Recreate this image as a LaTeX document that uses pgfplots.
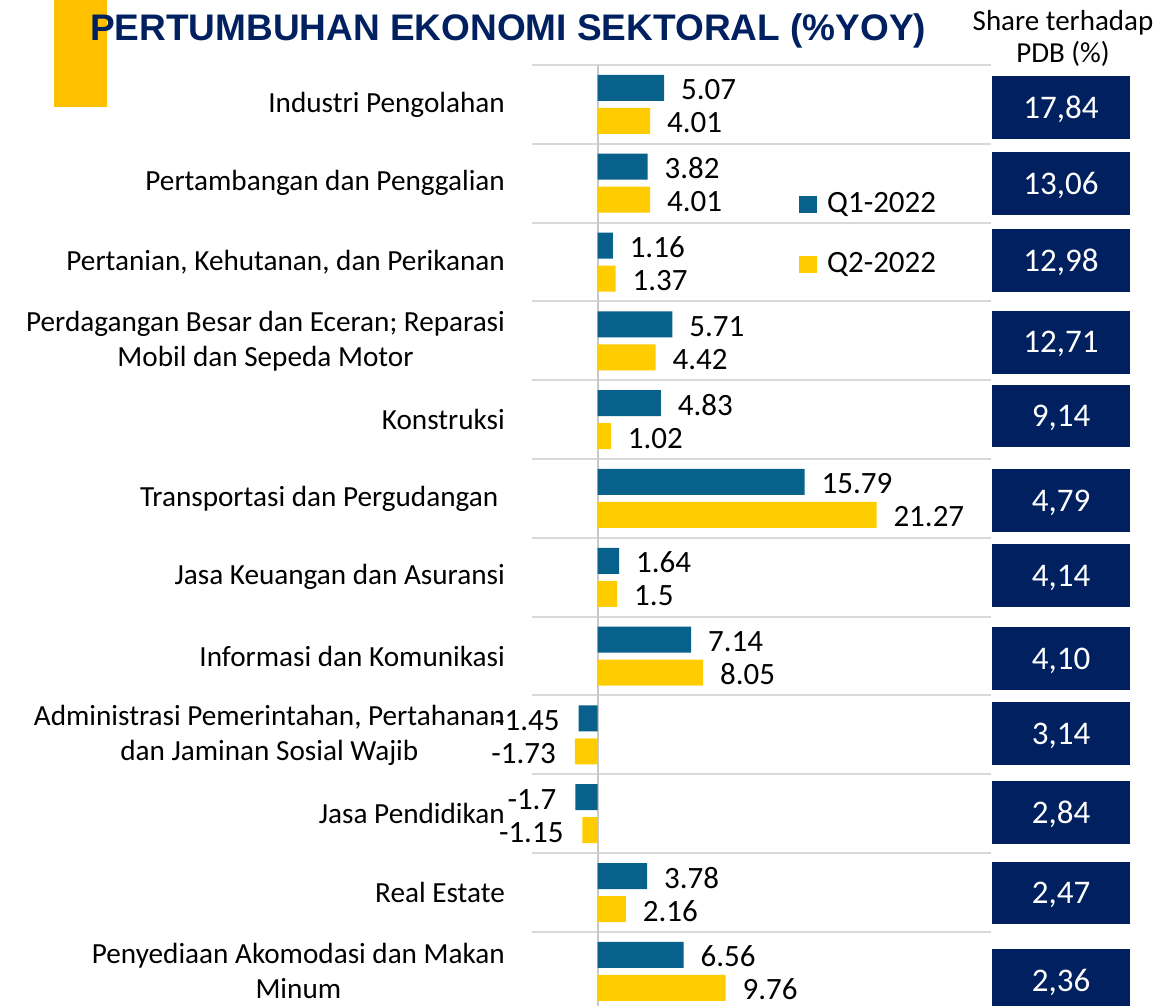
\documentclass[border=0pt]{standalone}
\usepackage{pgfplots}
\pgfplotsset{compat=1.18}
\usepackage{pgfplotstable}
\usepackage{fontspec}
\setmainfont{Carlito}
\newfontfamily\titlefont{Liberation Sans}
\definecolor{tealbar}{HTML}{08618A}
\definecolor{yelbar}{HTML}{FFCC00}
\definecolor{gold}{HTML}{FFC000}
\definecolor{navy}{HTML}{002060}
\definecolor{gridgray}{HTML}{D9D9D9}
\definecolor{zerogray}{HTML}{C8C8C8}
% Q1-2022
\pgfplotstableread{
y x l
11 5.07 5.07
10 3.82 3.82
9 1.16 1.16
8 5.71 5.71
7 4.83 4.83
6 15.79 15.79
5 1.64 1.64
4 7.14 7.14
1 3.78 3.78
0 6.56 6.56
}\qonepos
\pgfplotstableread{
y x l
3 -1.45 -1.45
2 -1.7 -1.7
}\qoneneg
% Q2-2022
\pgfplotstableread{
y x l
11 4.01 4.01
10 4.01 4.01
9 1.37 1.37
8 4.42 4.42
7 1.02 1.02
6 21.27 21.27
5 1.5 1.5
4 8.05 8.05
1 2.16 2.16
0 9.76 9.76
}\qtwopos
\pgfplotstableread{
y x l
3 -1.73 -1.73
2 -1.15 -1.15
}\qtwoneg
\begin{document}
\begin{tikzpicture}[x=1pt,y=1pt]
\useasboundingbox (0,0) rectangle (1160,-1006);
\fill[gold] (54,0) rectangle (107,-107);
\node[anchor=base west, inner sep=0pt, text=navy, font=\titlefont\bfseries\fontsize{37}{40}\selectfont] at (90,-41) {PERTUMBUHAN EKONOMI SEKTORAL (\%YOY)};
\node[anchor=base, inner sep=0pt, font=\fontsize{29}{33}\selectfont] at (1063,-31) {Share terhadap};
\node[anchor=base, inner sep=0pt, font=\fontsize{29}{33}\selectfont] at (1063,-63) {PDB (\%)};
\begin{axis}[
  at={(532pt,-65pt)}, anchor=north west,
  scale only axis, width=459pt, height=941pt,
  xmin=-5, xmax=30, ymin=-0.44, ymax=11.5,
  xbar, bar width=26pt,
  axis line style={draw=none},
  xtick=\empty,
  ytick={0,...,11},
  yticklabels={{Penyediaan Akomodasi dan Makan\\Minum},{Real Estate},{Jasa Pendidikan},{Administrasi Pemerintahan, Pertahanan\\dan Jaminan Sosial Wajib},{Informasi dan Komunikasi},{Jasa Keuangan dan Asuransi},{Transportasi dan Pergudangan\ },{Konstruksi},{Perdagangan Besar dan Eceran; Reparasi\\Mobil dan Sepeda Motor},{Pertanian, Kehutanan, dan Perikanan},{Pertambangan dan Penggalian},{Industri Pengolahan}},
  major tick length=0pt,
  yticklabel style={align=center, font=\fontsize{29.2}{35}\selectfont, inner sep=0pt, xshift=-27pt},
  extra y ticks={0.5,1.5,2.5,3.5,4.5,5.5,6.5,7.5,8.5,9.5,10.5,11.5},
  extra y tick labels={},
  extra y tick style={grid=major, major grid style={draw=gridgray, line width=2pt}},
  clip=false,
  point meta=explicit symbolic,
  every node near coord/.append style={font=\fontsize{31}{31}\selectfont, inner sep=0pt, text height=20pt, text depth=0pt, text=black, anchor=center, yshift=-2pt},
  legend style={draw=none, fill=none, at={(0.5817,0.865)}, anchor=north west, inner sep=0pt,
    row sep=34pt, column sep=10pt, font=\fontsize{31}{31}\selectfont,
    nodes={inner sep=0pt, text height=20pt, text depth=6pt}},
  legend cell align=left,
  legend image code/.code={\fill[#1] (0pt,-8pt) rectangle (18pt,9pt);},
]
\draw[zerogray, line width=2pt] (axis cs:0,-0.44) -- (axis cs:0,11.5);
\addplot[fill=tealbar, draw=none, bar shift=16.5pt, nodes near coords={\rlap{\pgfplotspointmeta}}, every node near coord/.append style={xshift=17pt}] table[x=x, y=y, meta=l] {\qonepos};
\addplot[fill=yelbar, draw=none, bar shift=-16.5pt, nodes near coords={\rlap{\pgfplotspointmeta}}, every node near coord/.append style={xshift=17pt}] table[x=x, y=y, meta=l] {\qtwopos};
\addplot[forget plot, fill=tealbar, draw=none, bar shift=16.5pt, nodes near coords={\llap{\pgfplotspointmeta}}, every node near coord/.append style={xshift=-19pt}] table[x=x, y=y, meta=l] {\qoneneg};
\addplot[forget plot, fill=yelbar, draw=none, bar shift=-16.5pt, nodes near coords={\llap{\pgfplotspointmeta}}, every node near coord/.append style={xshift=-19pt}] table[x=x, y=y, meta=l] {\qtwoneg};
\legend{Q1-2022, Q2-2022}
\end{axis}
\tikzset{sharebox/.style={fill=navy, minimum width=138.3pt, minimum height=62.7pt, inner sep=0pt, text=white, text depth=0pt, font=\fontsize{33}{33}\selectfont}}
\node[sharebox] at (1061,-107.7) {17,84};
\node[sharebox] at (1061,-183.4) {13,06};
\node[sharebox] at (1061,-260.7) {12,98};
\node[sharebox] at (1061,-342.2) {12,71};
\node[sharebox] at (1061,-416.0) {9,14};
\node[sharebox] at (1061,-500.5) {4,79};
\node[sharebox] at (1061,-575.4) {4,14};
\node[sharebox] at (1061,-658.4) {4,10};
\node[sharebox] at (1061,-733.5) {3,14};
\node[sharebox] at (1061,-812.3) {2,84};
\node[sharebox] at (1061,-893.1) {2,47};
\node[sharebox] at (1061,-980.0) {2,36};
\end{tikzpicture}
\end{document}
